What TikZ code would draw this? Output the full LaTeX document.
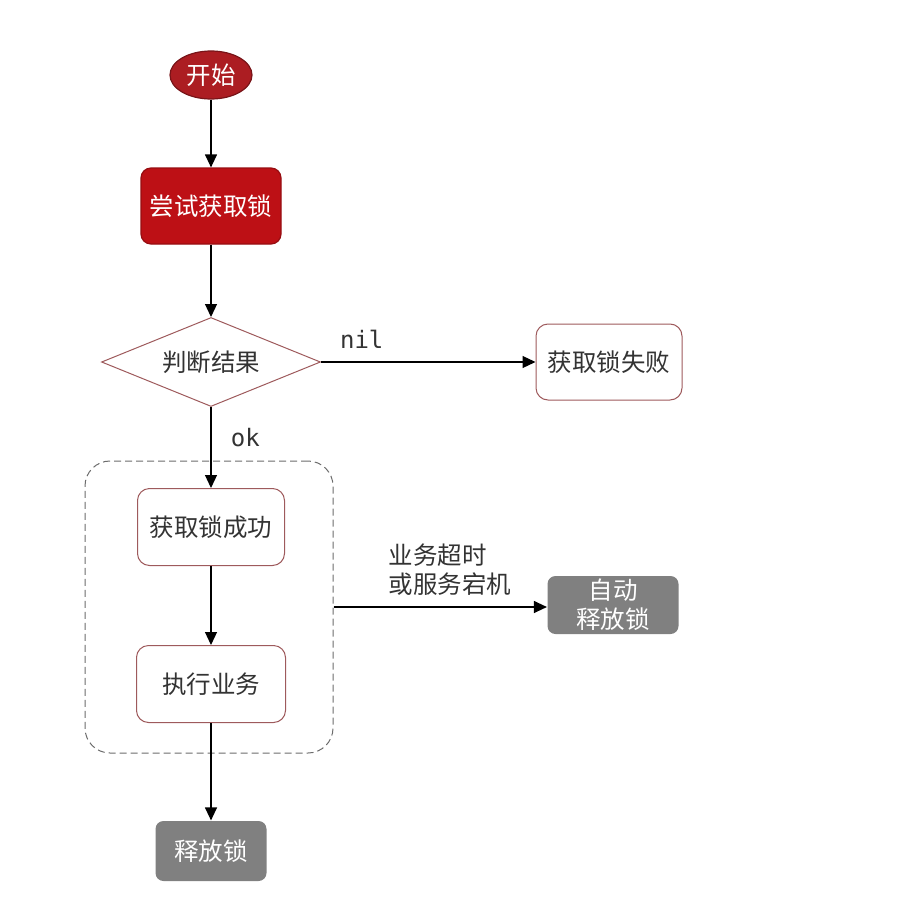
\documentclass[tikz,border=0pt]{standalone}
\usepackage{fontspec}
\setmainfont{Noto Sans CJK SC}
\setmonofont{DejaVu Sans Mono}
\usepackage{xcolor}
\usetikzlibrary{arrows.meta}
\usetikzlibrary{positioning}
\usetikzlibrary{shapes.geometric}

\definecolor{startred}{HTML}{AC1D22}
\definecolor{tryred}{HTML}{BD1015}
\definecolor{edgered}{HTML}{9E5A5C}
\definecolor{lockgrey}{HTML}{808080}
\definecolor{textgrey}{HTML}{333333}

\tikzset{
	cjk/.style={font=\fontsize{24.5}{29}\selectfont},
	startnode/.style={cjk, ellipse, draw=startred!70!black, fill=startred, text=white, minimum width=82pt, minimum height=48pt, inner sep=0pt},
	redbox/.style={cjk, rectangle, rounded corners=10pt, draw=tryred!80!black, fill=tryred, text=white, minimum width=140pt, minimum height=76pt},
	judge/.style={cjk, diamond, aspect=2.46, draw=edgered, line width=1pt, fill=white, text=textgrey, minimum width=219pt, minimum height=89pt, inner sep=0pt},
	box/.style={cjk, rectangle, rounded corners=12pt, draw=edgered, line width=1pt, fill=white, text=textgrey, minimum width=147pt, minimum height=77pt},
	greybox/.style={cjk, rectangle, rounded corners=8pt, fill=lockgrey, text=white, align=center, inner sep=0pt},
	groupbox/.style={rectangle, rounded corners=25pt, draw=gray!85!black, dash pattern=on 7pt off 4pt, line width=1pt, minimum width=248pt, minimum height=292pt},
	mono/.style={font=\ttfamily\fontsize{24}{28}\selectfont, text=textgrey},
}

\begin{document}
\begin{tikzpicture}[x=1pt,y=-1pt, line width=1.2pt, >={Triangle[length=13pt,width=12pt]}]
	\useasboundingbox (0,0) rectangle (897,899);
	
	\node[groupbox] (B) at (209,607) {};
	
	\node[startnode] (S) at (211,75) {开始};
	\node[redbox] (T) at (211,206) {尝试获取锁};
	\node[judge] (J) at (211,362) {判断结果};
	\node[box, minimum width=146pt, minimum height=76pt] (F) at (609,362) {获取锁失败};
	\node[box] (G) at (211,527) {获取锁成功};
	\node[box, minimum width=149pt] (E) at (211,684) {执行业务};
	\node[greybox, minimum width=111pt, minimum height=60pt] (R) at (211,851) {释放锁};
	\node[greybox, minimum width=131pt, minimum height=58pt] (A) at (613,605) {自动\\释放锁};
	
	\draw[->] (S) -- (T);
	\draw[->] (T) -- (J);
	\draw[->] (J) -- node[mono, pos=0.19, above=10pt] {nil} (F);
	\draw[->] (J) -- node[mono, pos=0.38, right=16pt] {ok} (G);
	\draw[->] (G) -- (E);
	\draw[->] (E) -- (R);
	\draw[->] (B.east) -- node[cjk, pos=0.24, above right=8pt and 0pt, align=left, text=textgrey] {业务超时\\或服务宕机} (B.east -| A.west);
	
\end{tikzpicture}
\end{document}
